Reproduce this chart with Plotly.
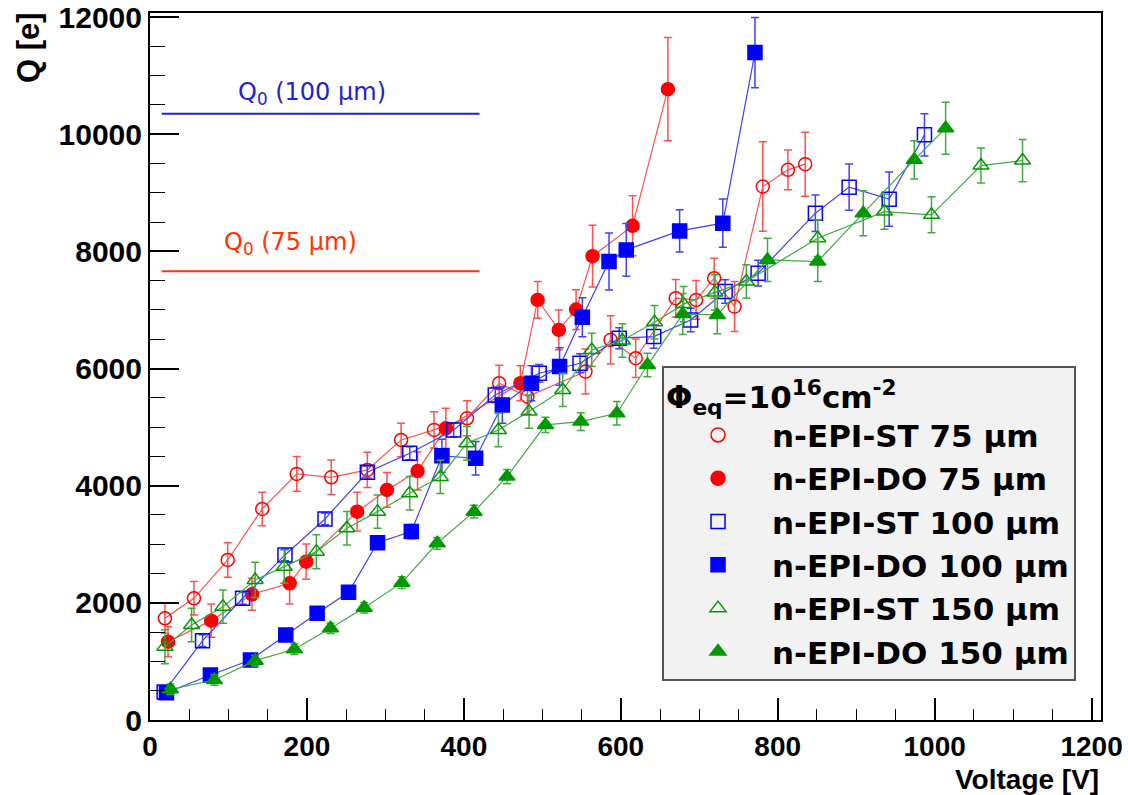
import plotly.graph_objects as go

# ---- data ----
st75_v = [19, 56, 99, 143, 187, 231, 277, 320, 362, 404, 445, 481, 555, 587, 619, 670, 696, 719, 745, 781, 813, 835]
st75_q = [1737, 2078, 2732, 3603, 4201, 4144, 4270, 4781, 4952, 5151, 5749, 5521, 5948, 6489, 6176, 7201, 7172, 7542, 7058, 9107, 9392, 9489]
st75_e = [256, 285, 296, 285, 296, 296, 300, 285, 310, 300, 307, 300, 384, 412, 327, 320, 330, 341, 427, 763, 341, 546]

do75_v = [23, 78, 130, 178, 199, 264, 302, 341, 377, 472, 494, 521, 543, 564, 615, 660]
do75_q = [1337, 1696, 2146, 2334, 2703, 3557, 3928, 4250, 4980, 5749, 7172, 6660, 7007, 7918, 8436, 10770]
do75_e = [256, 285, 273, 353, 300, 330, 296, 324, 341, 300, 313, 341, 340, 527, 512, 882]

st100_v = [18, 67, 118, 172, 223, 277, 331, 387, 440, 496, 548, 598, 642, 689, 733, 775, 848, 891, 942, 987]
st100_q = [480, 1355, 2078, 2818, 3432, 4230, 4554, 4952, 5550, 5920, 6091, 6518, 6546, 6830, 7314, 7628, 8652, 9097, 8892, 9990]
st100_e = [100, 100, 100, 100, 100, 100, 110, 120, 130, 150, 160, 180, 200, 200, 200, 220, 313, 393, 464, 361]

do100_v = [21, 77, 128, 173, 213, 253, 290, 333, 372, 415, 449, 486, 522, 551, 585, 607, 675, 730, 771]
do100_q = [466, 768, 1025, 1452, 1822, 2181, 3028, 3216, 4510, 4469, 5379, 5749, 6033, 6877, 7827, 8026, 8350, 8482, 11395]
do100_e = [100, 100, 100, 100, 100, 100, 110, 120, 285, 285, 313, 300, 320, 333, 487, 450, 361, 412, 600]

st150_v = [19, 53, 93, 134, 171, 212, 251, 290, 331, 370, 404, 444, 483, 526, 563, 602, 643, 680, 720, 760, 851, 936, 996, 1059, 1112]
st150_q = [1252, 1622, 1935, 2391, 2618, 2874, 3273, 3557, 3871, 4150, 4725, 4952, 5265, 5635, 6318, 6480, 6790, 7100, 7300, 7485, 8225, 8680, 8624, 9465, 9551]
st150_e = [290, 285, 285, 300, 285, 290, 285, 285, 285, 285, 285, 285, 285, 285, 285, 285, 285, 300, 300, 285, 313, 300, 307, 299, 361]

do150_v = [26, 82, 134, 184, 230, 273, 321, 366, 413, 455, 504, 549, 595, 634, 679, 723, 787, 851, 909, 974, 1014]
do150_q = [524, 683, 1013, 1207, 1566, 1918, 2345, 3017, 3557, 4155, 5038, 5094, 5237, 6060, 6930, 6916, 7855, 7827, 8652, 9563, 10104]
do150_e = [90, 90, 90, 90, 90, 90, 100, 100, 110, 120, 130, 150, 200, 200, 350, 320, 370, 341, 384, 327, 444]

q0_values = [10350, 7660]
q0_labels = ["Q<sub>0</sub> (100 µm)", "Q<sub>0</sub> (75 µm)"]
q0_colors = ["#2222d0", "#ff3300"]
q0_v_range = [15, 420]
q0_label_v = [207, 179]
q0_label_q = [10700, 8140]

series = [
    ("n-EPI-ST 75 µm", st75_v, st75_q, st75_e, "#ff0000", "#ff5050", "circle-open", 13),
    ("n-EPI-DO 75 µm", do75_v, do75_q, do75_e, "#ff0000", "#ff5050", "circle", 13),
    ("n-EPI-ST 100 µm", st100_v, st100_q, st100_e, "#0000ff", "#4040ff", "square-open", 14),
    ("n-EPI-DO 100 µm", do100_v, do100_q, do100_e, "#0000ff", "#4040ff", "square", 14),
    ("n-EPI-ST 150 µm", st150_v, st150_q, st150_e, "#009900", "#40aa40", "triangle-up-open", 14),
    ("n-EPI-DO 150 µm", do150_v, do150_q, do150_e, "#009900", "#40aa40", "triangle-up", 14),
]

fig = go.Figure()

for name, v, q, e, col, lcol, sym, ms in series:
    fig.add_trace(go.Scatter(
        x=v, y=q, mode="lines+markers", showlegend=False,
        line=dict(color=lcol, width=1.2),
        marker=dict(symbol=sym, size=ms, color=col, line=dict(color=col, width=1.5)),
        error_y=dict(type="data", array=e, visible=True, color=lcol, thickness=1.5, width=4),
    ))

for name, v, q, e, col, lcol, sym, ms in series:
    fig.add_trace(go.Scatter(
        x=[None], y=[None], mode="markers", name=name,
        marker=dict(symbol=sym, size=14, color=col, line=dict(color=col, width=1.5)),
    ))

for qv, lab, col, lv, lq in zip(q0_values, q0_labels, q0_colors, q0_label_v, q0_label_q):
    fig.add_shape(type="line", xref="x", yref="y", x0=q0_v_range[0], x1=q0_v_range[1],
                  y0=qv, y1=qv, line=dict(color=col, width=2))
    fig.add_annotation(x=lv, y=lq, xref="x", yref="y", text=lab, showarrow=False,
                       font=dict(family="DejaVu Sans", size=24, color=col),
                       xanchor="center", yanchor="middle")

fig.add_annotation(x=1.0, y=-0.0835, xref="paper", yref="paper", text="Voltage [V]",
                   showarrow=False, xanchor="right", yanchor="middle",
                   font=dict(family="Liberation Sans", size=28, color="black", weight="bold"))
fig.add_annotation(x=-0.128, y=1.004, xref="paper", yref="paper", text="Q [e]",
                   showarrow=False, textangle=-90, xanchor="center", yanchor="top",
                   font=dict(family="Liberation Sans", size=31, color="black", weight="bold"))

axis_common = dict(
    showgrid=False, zeroline=False, showline=True, linecolor="black", linewidth=2,
    mirror=True, ticks="inside", tickcolor="black", tickwidth=1.5, automargin=False,
)

fig.update_layout(
    width=1128, height=795,
    margin=dict(l=150, r=27, t=13, b=75, autoexpand=False),
    paper_bgcolor="white", plot_bgcolor="white",
    xaxis=dict(range=[0, 1212], tick0=0, dtick=200, ticklen=22, tickformat="d",
               tickfont=dict(family="Liberation Sans", size=28, color="black", weight="bold"),
               minor=dict(dtick=50, ticklen=11, ticks="inside", tickcolor="black", tickwidth=1),
               **axis_common),
    yaxis=dict(range=[0, 12070], tick0=0, dtick=2000, ticklen=29, tickformat="d",
               tickfont=dict(family="Liberation Sans", size=30, color="black", weight="bold"),
               minor=dict(dtick=500, ticklen=15, ticks="inside", tickcolor="black", tickwidth=1),
               **axis_common),
    legend=dict(
        x=0.5384, y=0.5007, xanchor="left", yanchor="top",
        bgcolor="#f2f2f2", bordercolor="#555555", borderwidth=2,
        font=dict(family="DejaVu Sans", size=31, color="black", weight="bold"),
        title=dict(text="Φ<sub>eq</sub>=10<sup>16</sup>cm<sup>-2</sup>",
                   font=dict(family="DejaVu Sans", size=31, color="black", weight="bold")),
        itemwidth=98, tracegroupgap=0,
    ),
)

fig.write_html("out.html")
